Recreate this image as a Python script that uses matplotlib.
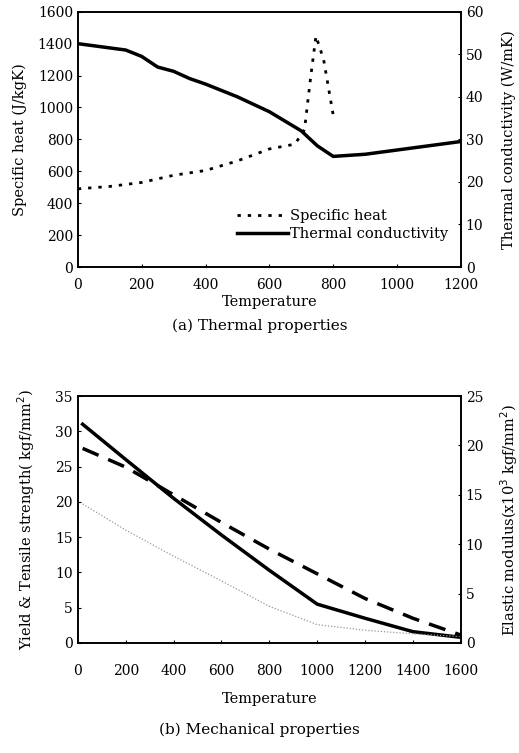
import matplotlib
matplotlib.use("Agg")
import matplotlib.pyplot as plt

# (a) Thermal properties
sh_T = [0, 100, 200, 300, 400, 500, 600, 680, 710, 730, 746, 770, 800]
sh_val = [490, 505, 530, 575, 605, 665, 740, 770, 860, 1200, 1448, 1300, 953]
tc_T = [0, 150, 200, 250, 300, 350, 400, 500, 600, 700, 750, 800, 900, 1000, 1200]
tc_val = [52.5, 51, 49.5, 47, 46, 44.3, 43, 40, 36.5, 32, 28.5, 26, 26.5, 27.5, 29.5]

# (b) Mechanical properties
mech_T = [20, 200, 400, 600, 800, 1000, 1200, 1400, 1600]
tensile = [31, 26, 20.5, 15.3, 10.3, 5.5, 3.5, 1.6, 0.8]
yield_s = [19.7, 16, 12.3, 8.8, 5.2, 2.6, 1.8, 1.3, 0.9]
elastic = [19.7, 17.8, 15.0, 12.2, 9.5, 7.0, 4.5, 2.5, 0.8]

plt.rcParams['font.family'] = ['DejaVu Serif']
fs_tick = 10
fs_lab = 10.5

fig = plt.figure(figsize=(5.19, 7.53), dpi=100)

# ---- top axes
ax1 = fig.add_axes([0.150, 0.6454, 0.738, 0.339])
ax1.plot(sh_T, sh_val, color='black', lw=2, linestyle=(0, (1.2, 2.5)), label='Specific heat')
ax1.set_xlim(0, 1200)
ax1.set_ylim(0, 1600)
ax1.set_xticks(range(0, 1201, 200))
ax1.set_yticks(range(0, 1601, 200))
ax1.tick_params(direction='in', length=2, labelsize=fs_tick)
ax1.tick_params(axis='x', pad=8)
ax1.set_ylabel('Specific heat (J/kgK)', fontsize=fs_lab, labelpad=8)
ax1.set_xlabel('Temperature', fontsize=fs_lab, labelpad=2)
ax1r = ax1.twinx()
ax1r.plot(tc_T, tc_val, color='black', lw=2.5, label='Thermal conductivity')
ax1r.set_ylim(0, 60)
ax1r.set_yticks(range(0, 61, 10))
ax1r.tick_params(direction='in', length=2, labelsize=fs_tick)
ax1r.set_ylabel('Thermal conductivity (W/mK)', fontsize=fs_lab, rotation=90, labelpad=13)
h1, l1 = ax1.get_legend_handles_labels()
h2, l2 = ax1r.get_legend_handles_labels()
ax1r.legend(h1 + h2, l1 + l2, loc='lower left', bbox_to_anchor=(0.38, 0.05), frameon=False,
            fontsize=fs_lab, handlelength=3.5, handletextpad=0.2, labelspacing=0.3)
fig.text(0.5, 0.567, '(a) Thermal properties', ha='center', va='center', fontsize=fs_lab + 0.5)

# ---- bottom axes
ax2 = fig.add_axes([0.150, 0.1461, 0.738, 0.328])
ax2.plot(mech_T, tensile, color='black', lw=2.5)
ax2.plot(mech_T, yield_s, color='#999999', lw=0.9, linestyle=(0, (1, 1.5)))
ax2.set_xlim(0, 1600)
ax2.set_ylim(0, 35)
ax2.set_xticks(range(0, 1601, 200))
ax2.set_yticks(range(0, 36, 5))
ax2.tick_params(direction='in', length=2, labelsize=fs_tick)
ax2.tick_params(axis='x', pad=15)
ax2.set_ylabel('Yield & Tensile strength( kgf/mm$^2$)', fontsize=fs_lab, labelpad=13)
ax2.set_xlabel('Temperature', fontsize=fs_lab, labelpad=10)
ax2r = ax2.twinx()
ax2r.plot(mech_T, elastic, color='black', lw=2.5, linestyle=(0, (5, 3)))
ax2r.set_ylim(0, 25)
ax2r.set_yticks(range(0, 26, 5))
ax2r.tick_params(direction='in', length=2, labelsize=fs_tick)
ax2r.set_ylabel('Elastic modulus(x10$^3$ kgf/mm$^2$)', fontsize=fs_lab, rotation=90, labelpad=11)
fig.text(0.5, 0.031, '(b) Mechanical properties', ha='center', va='center', fontsize=fs_lab + 0.5)

for a in (ax1, ax1r, ax2, ax2r):
    for s in a.spines.values():
        s.set_linewidth(1.2)

fig.savefig('out.png', dpi=100)
